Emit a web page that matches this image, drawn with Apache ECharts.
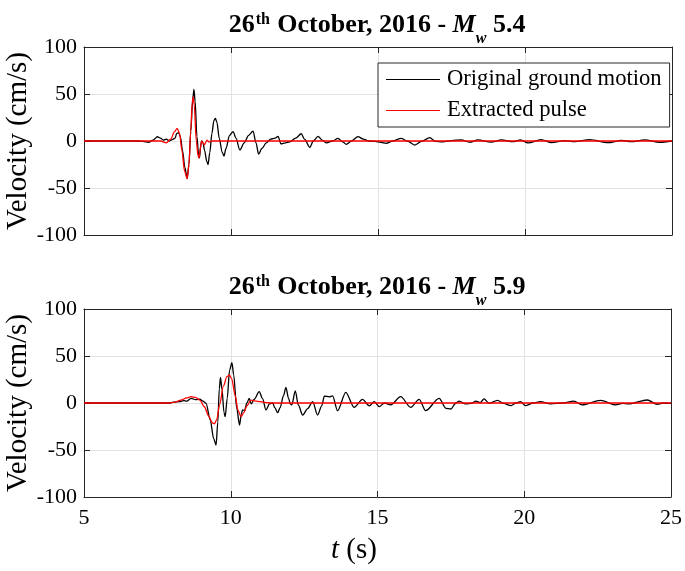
<!DOCTYPE html>
<html>
<head>
<meta charset="utf-8">
<script src="https://cdn.jsdelivr.net/npm/echarts@6/dist/echarts.min.js"></script>
<style>
html,body{margin:0;padding:0;background:#fff;}
#chart{width:685px;height:571px;}
</style>
</head>
<body>
<div id="chart"></div>
<script>
// ---- data (time s, velocity cm/s) ----
const xTicks = [5, 10, 15, 20, 25];
const yTicks = [-100, -50, 0, 50, 100];

const topGround = [[5,0],[6.8,0],[7.0,-0.5],[7.2,-1.5],[7.35,1],[7.5,4.5],[7.6,3],[7.7,1],[7.8,2],[7.9,0],[8.0,1.5],[8.1,3],[8.15,8],[8.22,9],[8.28,4],[8.35,-10],[8.43,-28],[8.51,-40],[8.57,-25],[8.63,10],[8.7,45],[8.74,55],[8.78,42],[8.84,5],[8.9,-15],[8.93,-18],[8.97,-5],[9.0,0],[9.05,-2],[9.1,-10],[9.18,-22],[9.22,-25],[9.28,-12],[9.35,8],[9.42,22],[9.47,24],[9.52,20],[9.6,3],[9.7,-12],[9.76,-16],[9.83,-8],[9.95,6],[10.07,10],[10.17,3],[10.3,-9.5],[10.45,-2],[10.6,6],[10.75,10.6],[10.85,-2],[10.94,-14],[11.05,-8],[11.2,-2],[11.35,2],[11.5,3],[11.6,5],[11.7,-3],[11.85,-2],[12.0,-1],[12.2,3],[12.39,7.7],[12.5,2],[12.68,-6.7],[12.8,0],[12.96,5],[13.1,1],[13.25,-2],[13.45,0],[13.64,2.8],[13.8,-1],[13.92,-3.5],[14.1,0],[14.32,4.6],[14.5,2],[14.7,0],[14.9,-0.5],[15.1,-1.5],[15.28,-2.5],[15.5,0],[15.79,2.8],[16.0,0],[16.25,-4.3],[16.5,0],[16.76,3.5],[16.95,-0.5],[17.2,-1],[17.5,0.5],[17.83,1.3],[18.12,-1.3],[18.4,1.1],[18.85,-1.3],[19.2,1.1],[19.59,-0.7],[19.85,1.1],[20.1,-2],[20.55,1.4],[20.9,-1.8],[21.35,0.4],[21.69,-0.7],[22.2,1.4],[22.82,-1.8],[23.28,0.7],[23.62,-0.7],[24.07,1.1],[24.58,-1.4],[25,0]];

const topPulse = [[5,0],[7.6,0],[7.8,-2],[7.95,2],[8.08,10],[8.17,13.5],[8.25,8],[8.33,-10],[8.42,-32],[8.51,-40],[8.57,-25],[8.63,10],[8.68,40],[8.71,47],[8.75,38],[8.82,0],[8.88,-16],[8.91,-18],[8.96,-8],[9.0,0],[9.05,-2],[9.1,-4],[9.18,1],[9.25,-1],[9.35,0],[25,0]];

const botGround = [[5,0],[7.9,0],[8.05,1],[8.25,1.5],[8.4,2.5],[8.5,2],[8.65,5],[8.8,3.5],[8.95,4],[9.05,2],[9.16,-0.3],[9.3,-18],[9.42,-38],[9.5,-44.7],[9.56,-20],[9.61,15],[9.65,27.3],[9.7,15],[9.77,-10],[9.81,-14.6],[9.88,5],[9.96,35],[10.04,43],[10.1,30],[10.2,-5],[10.3,-23.4],[10.36,-12],[10.4,-7.4],[10.47,-8],[10.55,0],[10.63,5],[10.7,-1],[10.8,4],[10.97,12],[11.08,5],[11.2,-7.4],[11.32,-1],[11.43,0],[11.5,-5],[11.6,-10.3],[11.68,-5],[11.8,8],[11.88,16.7],[11.97,5],[12.03,-1],[12.08,-2],[12.2,13],[12.3,-2],[12.45,-12.8],[12.62,-6],[12.79,1.4],[12.96,-12.8],[13.1,-3],[13.19,7.4],[13.36,6.5],[13.47,7.5],[13.64,-8.2],[13.92,11.3],[14.2,-4.6],[14.49,3.9],[14.72,-3],[14.89,1.4],[15.06,-3.9],[15.23,0],[15.45,-2],[15.79,6.7],[16.13,-4.6],[16.42,3.9],[16.64,-8.2],[17.1,5],[17.33,-5.7],[17.5,-6.4],[17.67,0],[17.78,2],[18.0,-1],[18.2,-0.5],[18.35,2],[18.5,0.5],[18.63,4.3],[18.8,-0.4],[19.09,2.8],[19.3,-0.5],[19.55,-2.8],[19.72,0],[19.87,1.4],[20.04,-2.8],[20.3,0],[20.55,1.4],[20.9,-1],[21.3,0],[21.69,2],[21.97,-2],[22.6,2.8],[23.11,-2],[23.35,-0.5],[23.56,-1],[24.19,3.2],[24.53,-1.4],[24.75,0],[25,-0.5]];

const botPulse = [[5,0],[7.9,0],[8.1,1],[8.3,3],[8.5,5.5],[8.65,6.7],[8.8,6],[8.95,3],[9.1,-4],[9.25,-14],[9.37,-21],[9.44,-22.3],[9.52,-18],[9.62,-2],[9.75,18],[9.87,28],[9.95,29.8],[10.03,26],[10.15,8],[10.25,-8],[10.35,-14.6],[10.45,-10],[10.55,-3],[10.69,3],[10.85,2],[11.0,1.5],[11.2,0.5],[11.4,0],[25,0]];

const titleTop = '{b|26}{sup|th}{b| October, 2016 - }{mi|M}{sub|w}{b| 5.4}';
const titleBot = '{b|26}{sup|th}{b| October, 2016 - }{mi|M}{sub|w}{b| 5.9}';
const nameGround = 'Original ground motion';
const namePulse = 'Extracted pulse';

// ---- styling ----
const FONT = '"Liberation Serif", "Times New Roman", serif';
const AX = '#262626';
const GRIDC = '#e2e2e2';
const grids = [
  { left: 84, top: 47, width: 588, height: 188 },
  { left: 84, top: 309, width: 588, height: 188 }
];

const richTitle = {
  b: { fontFamily: FONT, fontWeight: 'bold', fontSize: 26, color: '#000', lineHeight: 26, verticalAlign: 'top' },
  sup: { fontFamily: FONT, fontWeight: 'bold', fontSize: 16, color: '#000', lineHeight: 16, verticalAlign: 'top', padding: [0, 1, 0, 1] },
  mi: { fontFamily: FONT, fontWeight: 'bold', fontStyle: 'italic', fontSize: 26, color: '#000', lineHeight: 26, verticalAlign: 'top' },
  sub: { fontFamily: FONT, fontWeight: 'bold', fontStyle: 'italic', fontSize: 16, color: '#000', lineHeight: 35, verticalAlign: 'bottom' }
};

function xAxes(i) {
  return [
    { gridIndex: i, type: 'value', min: 5, max: 25, interval: 5, position: 'bottom',
      axisLine: { show: true, onZero: false, lineStyle: { color: AX, width: 1 } },
      axisTick: { show: true, inside: true, length: 6, lineStyle: { color: AX } },
      axisLabel: { show: i === 1, fontFamily: FONT, fontSize: 22, color: '#000', margin: 10,
        formatter: v => (xTicks.indexOf(v) >= 0 ? String(v) : '') },
      splitLine: { show: true, lineStyle: { color: GRIDC, width: 1 } } },
    { gridIndex: i, type: 'value', min: 5, max: 25, interval: 5, position: 'top',
      axisLine: { show: true, onZero: false, lineStyle: { color: AX, width: 1 } },
      axisTick: { show: true, inside: true, length: 6, lineStyle: { color: AX } },
      axisLabel: { show: false }, splitLine: { show: false } }
  ];
}
function yAxes(i) {
  return [
    { gridIndex: i, type: 'value', min: -100, max: 100, interval: 50, position: 'left',
      axisLine: { show: true, onZero: false, lineStyle: { color: AX, width: 1 } },
      axisTick: { show: true, inside: true, length: 6, lineStyle: { color: AX } },
      axisLabel: { show: true, fontFamily: FONT, fontSize: 22, color: '#000', margin: 7,
        formatter: v => (yTicks.indexOf(v) >= 0 ? String(v) : '') },
      splitLine: { show: true, lineStyle: { color: GRIDC, width: 1 } } },
    { gridIndex: i, type: 'value', min: -100, max: 100, interval: 50, position: 'right',
      axisLine: { show: true, onZero: false, lineStyle: { color: AX, width: 1 } },
      axisTick: { show: true, inside: true, length: 6, lineStyle: { color: AX } },
      axisLabel: { show: false }, splitLine: { show: false } }
  ];
}

function lineSeries(name, data, xi, yi, color, z) {
  return { name, type: 'line', data, xAxisIndex: xi, yAxisIndex: yi, symbol: 'none',
    smooth: 0.3, smoothMonotone: 'x', z,
    lineStyle: { color, width: 1.3 }, itemStyle: { color }, animation: false };
}

const chart = echarts.init(document.getElementById('chart'), null, { renderer: 'canvas' });
chart.setOption({
  backgroundColor: '#fff',
  animation: false,
  title: [
    { text: titleTop, left: 372, textAlign: 'center', top: 7, textStyle: { rich: richTitle } },
    { text: titleBot, left: 372, textAlign: 'center', top: 269, textStyle: { rich: richTitle } }
  ],
  legend: {
    left: 378, top: 63, orient: 'vertical', itemWidth: 54, itemHeight: 1.2, itemGap: 8,
    icon: 'rect',
    padding: [5, 8, 5, 8], borderColor: AX, borderWidth: 1, borderRadius: 0, backgroundColor: '#fff',
    data: [nameGround, namePulse],
    textStyle: { fontFamily: FONT, fontSize: 22.6, color: '#000', padding: [0, 0, 0, 2] }
  },
  grid: grids,
  xAxis: [...xAxes(0), ...xAxes(1)],
  yAxis: [...yAxes(0), ...yAxes(1)],
  series: [
    lineSeries(nameGround, topGround, 0, 0, '#000', 2),
    lineSeries(namePulse, topPulse, 0, 0, '#ff0000', 3),
    lineSeries(nameGround, botGround, 2, 2, '#000', 2),
    lineSeries(namePulse, botPulse, 2, 2, '#ff0000', 3)
  ],
  graphic: [
    { type: 'text', x: 18, y: 141, rotation: Math.PI / 2,
      style: { text: 'Velocity (cm/s)', font: '29px ' + FONT, fill: '#000', align: 'center', verticalAlign: 'middle' } },
    { type: 'text', x: 18, y: 403, rotation: Math.PI / 2,
      style: { text: 'Velocity (cm/s)', font: '29px ' + FONT, fill: '#000', align: 'center', verticalAlign: 'middle' } },
    { type: 'text', x: 354, y: 550,
      style: { text: '{i|t}{n| (s)}', align: 'center', verticalAlign: 'middle',
        rich: { i: { fontFamily: FONT, fontStyle: 'italic', fontSize: 29, color: '#000' },
                n: { fontFamily: FONT, fontSize: 29, color: '#000' } } } }
  ]
});
</script>
</body>
</html>
